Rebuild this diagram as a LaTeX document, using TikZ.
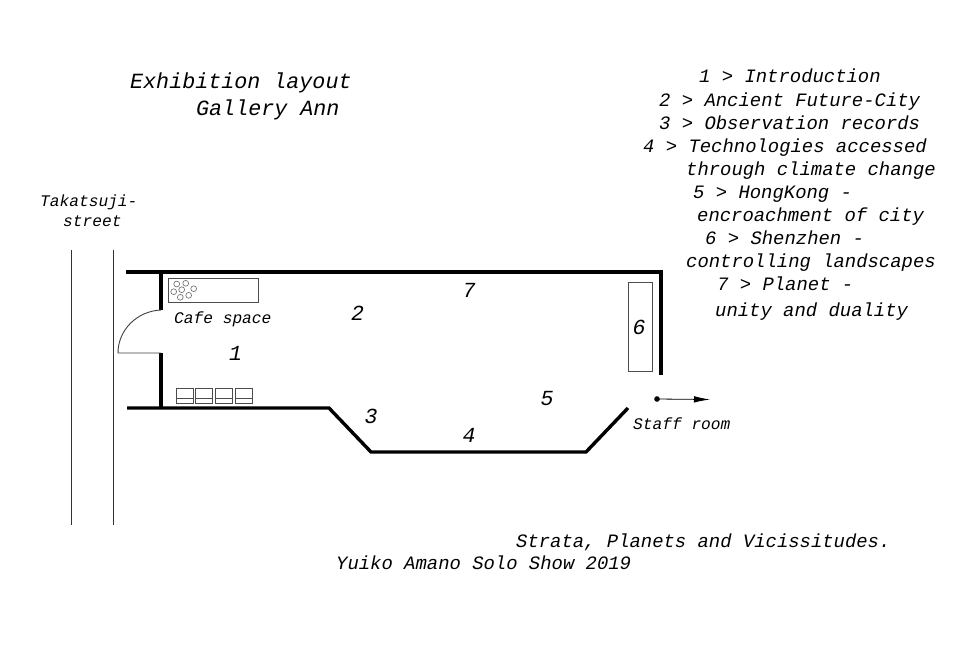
\documentclass[tikz,border=0pt]{standalone}
\usepackage{fontspec}
\setmainfont{Liberation Mono}
\usetikzlibrary{arrows.meta}
\newcommand{\fsA}{\fontsize{21.7}{24}\selectfont\itshape}
\newcommand{\fsB}{\fontsize{18.9}{22}\selectfont\itshape}
\newcommand{\fsC}{\fontsize{16.2}{18}\selectfont\itshape}
\newcommand{\fsD}{\fontsize{21.5}{24}\selectfont\itshape}
\tikzset{
  wall/.style={line width=3.4pt,line cap=butt,black},
  thin line/.style={line width=0.9pt,black!75},
  street/.style={line width=0.7pt,black!80},
  furn/.style={line width=0.9pt,black!70},
  lab/.style={inner sep=0pt,anchor=base west},
  title/.style={lab,font=\fsA},
  listing/.style={lab,font=\fsB},
  small/.style={lab,font=\fsC},
  num/.style={inner sep=0pt,anchor=base,font=\fsD}
}
\begin{document}
\begin{tikzpicture}[x=1pt,y=-1pt]
\useasboundingbox (0,0) rectangle (980,649);
\fill[white] (0,0) rectangle (980,649);
% street
\draw[street] (71.5,250) -- (71.5,525);
\draw[street] (113.5,250) -- (113.5,525);
% walls
\draw[wall] (126,272) -- (661,272) -- (661,375);
\draw[wall] (161,272) -- (161,310);
\draw[wall] (161,353) -- (161,408);
\draw[wall] (127,408) -- (329,408) -- (371,452) -- (586,452) -- (628,408);
% door
\draw[thin line] (161,310) .. controls (137,311) and (118,330) .. (118,353) -- (161,353);
% cafe counter
\draw[furn] (168,278) rectangle (258,302.5);
\foreach \cx/\cy in {176.7/284,185.7/283.3,193.7/288.7,181.7/289.7,173.7/291.7,180.3/297.3,188.7/295.3}
  \draw[black!60,line width=0.6pt,fill=white] (\cx,\cy) circle (2.9);
% seats
\foreach \sx in {176.3,195.7,215.3,235.3}{
  \draw[furn] (\sx,388.5) rectangle ++(17,15);
  \draw[furn] (\sx,398.3) -- ++(17,0);
}
% panel 6
\draw[furn] (628,282) rectangle (652.5,371.5);
% staff arrow
\coordinate (staffA) at (657,399);
\coordinate (staffB) at (710,399.5);
\fill (staffA) circle (2.8);
\draw[line width=0.8pt,-{Latex[length=16pt,width=6.5pt]}] (staffA) -- (staffB);
% text
\node[title] (t1) at (130,88.5) {Exhibition layout};
\node[title] (t2) at (196,115) {Gallery Ann};
\node[listing] (l1) at (699,82.5) {1 > Introduction};
\node[listing] (l2) at (659,106) {2 > Ancient Future-City};
\node[listing] (l3) at (659,129) {3 > Observation records};
\node[listing] (l4) at (643,152) {4 > Technologies accessed};
\node[listing] (l4b) at (686,175) {through climate change};
\node[listing] (l5) at (693,198) {5 > HongKong -};
\node[listing] (l5b) at (697,221) {encroachment of city};
\node[listing] (l6) at (705,244) {6 > Shenzhen -};
\node[listing] (l6b) at (686,267) {controlling landscapes};
\node[listing] (l7) at (717,290) {7 > Planet -};
\node[listing] (l7b) at (715,316) {unity and duality};
\node[small] (s1) at (40,206) {Takatsuji-};
\node[small] (s2) at (63,226.5) {street};
\node[small] (cafe) at (174,323) {Cafe space};
\node[small] (staff) at (633,429) {Staff room};
\node[listing] (c1) at (516,547) {Strata, Planets and Vicissitudes.};
\node[listing] (c2) at (336,569.5) {Yuiko Amano Solo Show 2019};
\node[num] (n1) at (235.5,360.5) {1};
\node[num] (n2) at (357.5,320.5) {2};
\node[num] (n3) at (371,423.5) {3};
\node[num] (n4) at (469,442.5) {4};
\node[num] (n5) at (547,405.5) {5};
\node[num] (n6) at (639,334) {6};
\node[num] (n7) at (469,297.5) {7};
\end{tikzpicture}
\end{document}
